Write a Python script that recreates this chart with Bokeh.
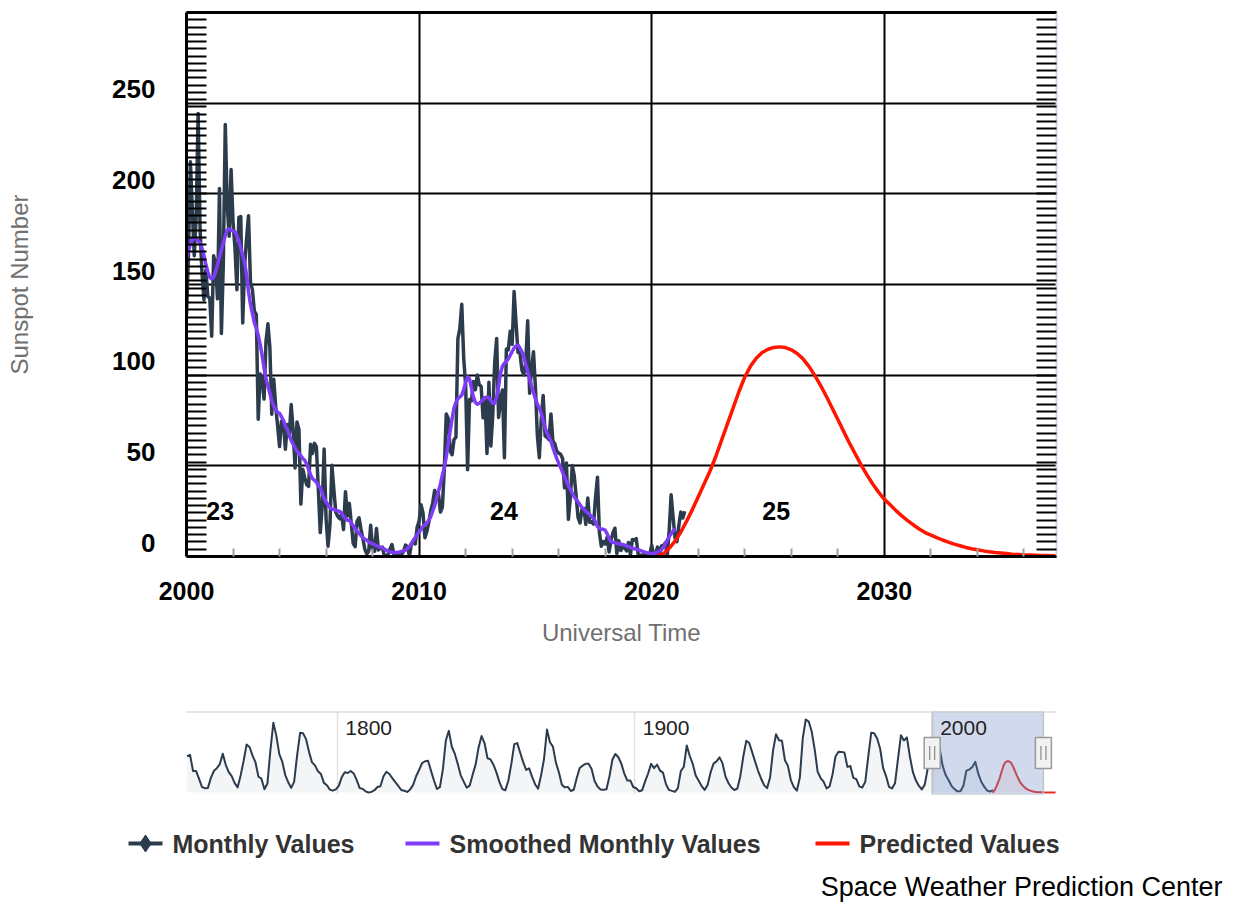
from bokeh.plotting import figure
from bokeh.layouts import column
from bokeh.models import Range1d, LinearAxis, FixedTicker, Grid
from bokeh.core.properties import value
from bokeh.embed import file_html
from bokeh.resources import INLINE

FONT = "Liberation Sans"

# ---------------------------------------------------------------------------
# Data
# ---------------------------------------------------------------------------
# Monthly mean sunspot number, one value per month starting January 2000
monthly_start = 2000
monthly_values = [
    133.1, 165.7, 217.7, 191.5, 165.9, 188.0, 244.3, 180.5, 156.0, 141.6, 158.1, 143.3,  # 2000
    142.6, 121.5, 165.8, 161.7, 142.1, 202.9, 123.0, 161.5, 238.2, 194.1, 176.6, 213.4,  # 2001
    184.6, 170.2, 147.1, 186.9, 187.5, 128.8, 161.0, 175.6, 187.9, 151.2, 147.2, 135.3,  # 2002
    133.5, 75.7, 100.7, 97.9, 86.8, 118.7, 128.3, 115.4, 78.5, 97.8, 82.9, 72.2,  # 2003
    60.6, 74.6, 74.8, 59.2, 72.8, 66.5, 83.8, 69.7, 48.8, 74.2, 70.1, 28.9,  # 2004
    48.1, 43.5, 39.6, 38.7, 61.9, 56.8, 62.4, 60.5, 37.2, 13.2, 27.5, 59.3,  # 2005
    20.9, 5.7, 17.3, 50.3, 37.2, 24.5, 22.2, 20.8, 23.7, 14.9, 35.7, 22.3,  # 2006
    29.3, 18.4, 7.2, 5.4, 19.5, 21.3, 15.1, 9.8, 4.0, 1.5, 2.8, 17.3,  # 2007
    4.1, 2.9, 15.5, 3.6, 4.6, 5.2, 0.6, 0.3, 1.2, 4.2, 6.6, 1.0,  # 2008
    1.3, 1.2, 0.6, 1.2, 2.9, 6.3, 5.5, 0.0, 7.1, 7.7, 6.9, 16.3,  # 2009
    19.5, 28.5, 24.0, 10.4, 13.9, 18.8, 25.2, 29.6, 36.4, 33.6, 34.4, 24.5,  # 2010
    27.3, 48.3, 78.6, 76.1, 58.2, 56.1, 64.5, 65.8, 120.1, 125.7, 139.1, 109.3,  # 2011
    94.4, 47.8, 86.6, 85.9, 96.5, 92.0, 100.1, 94.8, 93.7, 76.5, 87.6, 56.8,  # 2012
    96.1, 60.9, 78.3, 107.3, 120.2, 76.7, 86.2, 91.8, 54.5, 114.4, 113.9, 124.2,  # 2013
    117.0, 146.1, 128.7, 112.5, 112.5, 102.9, 100.2, 106.9, 130.0, 90.0, 103.6, 112.9,  # 2014
    93.0, 66.7, 54.5, 75.3, 88.8, 66.5, 65.8, 64.4, 78.6, 63.6, 62.2, 58.0,  # 2015
    57.0, 56.4, 54.1, 37.9, 51.5, 20.5, 32.4, 50.2, 44.6, 33.4, 21.4, 18.5,  # 2016
    26.1, 26.4, 17.7, 32.3, 18.9, 19.2, 17.8, 32.6, 43.7, 13.2, 5.7, 8.2,  # 2017
    6.8, 10.7, 2.5, 8.9, 13.1, 15.6, 1.6, 8.7, 3.3, 4.9, 4.9, 3.1,  # 2018
    7.7, 0.8, 9.4, 9.1, 9.9, 1.2, 0.9, 0.5, 1.1, 0.4, 0.5, 1.5,  # 2019
    6.2, 0.2, 1.5, 5.2, 0.2, 5.8, 6.1, 7.5, 0.6, 14.4, 34.0, 21.8,  # 2020
    10.4, 8.2, 17.2, 24.5, 21.2, 25.0,  # 2021
]

# 13-month smoothed sunspot number, one value per month starting January 2000
smoothed_values = [
    165, 169, 172, 175, 175.5, 175, 174, 173, 170, 166, 161, 157,  # 2000
    154, 153, 154, 157, 161, 165, 169, 173, 177, 180, 180.5, 180,  # 2001
    179.5, 179, 177, 174, 170, 166, 162, 155, 146, 139, 134, 129,  # 2002
    126, 122, 117, 111, 104, 98, 94, 90, 86, 83, 81, 79.5,  # 2003
    79, 77, 75, 72, 70, 67, 64, 62, 60, 58, 57, 55.5,  # 2004
    54, 53, 51, 48, 45, 43, 42, 41, 39, 38, 35, 32,  # 2005
    30, 28.5, 27, 26, 26, 25.5, 25, 25, 24, 22, 21, 20,  # 2006
    20, 18.5, 17, 15.5, 14, 13, 11.5, 10.5, 9.5, 9, 8, 7.5,  # 2007
    7, 6.5, 6, 5.5, 5, 4.7, 4.2, 3.5, 3, 2.6, 2.3, 2.2,  # 2008
    2.2, 2.3, 2.5, 2.8, 3.1, 3.6, 4.5, 5.5, 7, 9, 10.5, 12,  # 2009
    13.5, 15, 16.5, 17.5, 18.5, 20, 22, 25, 28, 32, 36, 40,  # 2010
    45, 49, 55, 62, 69, 76, 82, 85, 87, 88, 89, 92,  # 2011
    96, 99, 98, 93, 88, 85, 84, 84.5, 85.5, 86.5, 87.5, 88,  # 2012
    87.5, 86, 84.5, 84.5, 88, 94, 101, 105, 106.5, 107.5, 109, 111,  # 2013
    113, 115, 116.2, 116.6, 115, 113, 110, 106, 102, 98, 94, 90.5,  # 2014
    87, 84, 82, 79, 75, 71, 68, 66, 63.5, 60, 57, 54,  # 2015
    51.5, 49, 46.5, 44, 41.5, 39, 37, 35, 33, 31.5, 30, 28.5,  # 2016
    27, 26, 25, 24, 23, 22, 21, 19, 16.5, 15.5, 15.2, 15,  # 2017
    14.5, 12.5, 10, 8.2, 7.8, 7.5, 7.3, 7, 6.8, 6.6, 6.3, 5.9,  # 2018
    5.5, 5, 4.6, 4.3, 4, 3.7, 3.4, 3, 2.6, 2.2, 1.9, 1.8,  # 2019
    1.6, 1.7, 2, 2.5, 3, 3.8, 5, 7, 9, 11, 12.5, 14,  # 2020
    15.5,  # 2021
]

# Predicted smoothed sunspot number for cycle 25, quarterly from 2020.25
predicted_start = 2020.25
predicted_step = 0.25
predicted_values = [
    0.3, 1.5, 4.5, 8.5, 13.5, 19.5, 26, 33, 40, 47, 55, 64,
    73, 82, 91, 99, 105, 109.5, 112.5, 114.3, 115.3, 115.6, 115.2, 114,
    112, 109, 105, 100, 94.5, 88.5, 82, 75.5, 69, 62.5, 56.5, 50.5,
    45, 40, 35.5, 31.5, 28.5, 25.3, 22.4, 19.8, 17.4, 15.2, 13.2, 11.8,
    10.4, 9.1, 7.9, 6.8, 5.9, 5.0, 4.3, 3.7, 3.1, 2.6, 2.2, 1.9,
    1.6, 1.3, 1.1, 0.9, 0.8, 0.7, 0.6, 0.5, 0.45, 0.4, 0.35, 0.3,
    0.3, 0.28, 0.26, 0.24, 0.22, 0.2, 0.2, 0.18, 0.17, 0.16, 0.15, 0.15,
    0.14, 0.13,
]

# Yearly mean sunspot number 1749-2020 (navigator overview)
nav_first_year = 1749
nav_values = [
    134.0,
    139.0, 79.5, 79.7, 51.2, 20.3, 16.0, 17.0, 54.0, 79.3, 90.0,
    104.8, 143.2, 102.0, 75.2, 60.7, 34.8, 19.0, 63.0, 116.3, 176.8,
    168.0, 136.0, 110.8, 58.0, 51.0, 11.7, 33.0, 154.2, 257.3, 209.8,
    141.3, 113.5, 64.2, 38.0, 17.0, 40.2, 138.2, 220.0, 218.2, 196.8,
    149.8, 111.0, 100.0, 78.2, 68.3, 35.5, 26.7, 10.7, 6.8, 11.3,
    24.2, 56.7, 75.0, 71.8, 79.2, 70.3, 46.8, 16.8, 13.5, 4.2,
    0.0, 2.3, 8.3, 20.3, 23.2, 59.0, 76.3, 68.3, 52.9, 38.5,
    24.2, 9.2, 6.3, 2.2, 11.4, 28.2, 59.9, 83.0, 108.5, 115.2,
    117.4, 80.8, 44.3, 13.4, 19.5, 85.8, 192.7, 227.3, 168.7, 143.0,
    105.5, 63.3, 40.3, 18.1, 25.1, 65.8, 102.7, 166.3, 208.3, 182.5,
    126.3, 122.0, 102.7, 74.1, 39.0, 12.7, 8.2, 43.4, 104.4, 178.3,
    182.2, 146.6, 112.1, 83.5, 89.2, 57.8, 30.7, 13.9, 62.8, 123.6,
    232.0, 185.3, 169.2, 110.1, 74.5, 28.3, 18.9, 20.7, 5.7, 10.0,
    53.7, 90.5, 99.0, 106.1, 105.8, 86.3, 42.4, 21.8, 11.2, 10.4,
    11.8, 59.5, 121.7, 142.0, 130.0, 106.6, 69.4, 43.8, 44.4, 20.2,
    15.7, 4.6, 8.5, 40.8, 70.1, 105.5, 90.1, 102.8, 80.9, 73.2,
    30.9, 9.5, 6.0, 2.4, 16.1, 79.0, 95.0, 173.6, 134.6, 105.7,
    62.7, 43.5, 23.7, 9.7, 27.9, 74.0, 106.5, 114.7, 129.7, 108.2,
    59.4, 35.1, 18.6, 9.2, 14.6, 60.2, 132.8, 190.6, 182.6, 148.0,
    113.0, 79.2, 50.8, 27.1, 16.1, 55.3, 154.3, 214.7, 193.0, 190.7,
    118.9, 98.3, 45.0, 20.1, 6.6, 54.2, 200.7, 269.3, 261.7, 225.1,
    159.0, 76.4, 53.4, 39.9, 15.0, 22.0, 66.8, 132.9, 150.2, 149.4,
    148.0, 94.4, 97.6, 54.1, 49.2, 22.5, 18.4, 39.3, 131.0, 220.1,
    218.9, 198.9, 162.4, 91.0, 60.5, 20.6, 14.8, 33.9, 123.0, 211.1,
    191.8, 203.3, 133.0, 76.1, 44.9, 25.1, 11.6, 28.9, 88.3, 136.3,
    173.9, 170.4, 163.6, 99.3, 65.3, 45.8, 24.7, 12.6, 4.2, 4.8,
    24.9, 80.8, 84.5, 94.0, 113.3, 69.8, 39.8, 21.7, 7.0, 3.6, 8.8,
]

# Solar cycle numbers and where they are written
cycle_labels = ["23", "24", "25"]
cycle_label_x = [2001.45, 2013.65, 2025.35]
cycle_label_y = [25, 25, 25]

x_ticks = [2000, 2010, 2020, 2030]
y_ticks = [0, 50, 100, 150, 200, 250]
nav_ticks = [1800, 1900, 2000]

legend_labels = ["Monthly Values", "Smoothed Monthly Values", "Predicted Values"]
credit_text = "Space Weather Prediction Center"

# ---------------------------------------------------------------------------
# Styles
# ---------------------------------------------------------------------------
C_MONTHLY = "#2c3c4d"
C_SMOOTH = "#7e3cf8"
C_PRED = "#ff1500"

X_START, X_END = 2000.0, 2037.4
Y_START, Y_END = 0.0, 300.0
LABEL_SHIFT = 7.72  # value labels sit a little above their grid lines

monthly_x = [monthly_start + i / 12 for i in range(len(monthly_values))]
smoothed_x = [monthly_start + i / 12 for i in range(len(smoothed_values))]
predicted_x = [predicted_start + i * predicted_step for i in range(len(predicted_values))]
nav_x = [nav_first_year + i + 0.5 for i in range(len(nav_values))]

# ---------------------------------------------------------------------------
# Main chart
# ---------------------------------------------------------------------------
p = figure(width=1235, height=680,
           x_range=Range1d(X_START, X_END), y_range=Range1d(Y_START, Y_END),
           x_axis_type=None, y_axis_type=None,
           min_border_left=186, min_border_right=179,
           min_border_top=12, min_border_bottom=124,
           output_backend="svg", toolbar_location=None)
p.outline_line_color = None
p.background_fill_color = "white"
p.border_fill_color = "white"
p.extra_y_ranges = {"lab": Range1d(Y_START - LABEL_SHIFT, Y_END - LABEL_SHIFT)}

p.add_layout(Grid(dimension=0, ticker=FixedTicker(ticks=[t for t in x_ticks if t > X_START]),
                  grid_line_color="black", grid_line_width=2))
p.add_layout(Grid(dimension=1, ticker=FixedTicker(ticks=[t for t in y_ticks if t > Y_START]),
                  grid_line_color="black", grid_line_width=2))

minor_y = list(range(0, 301, 4))

xaxis = LinearAxis(ticker=FixedTicker(ticks=x_ticks,
                                      minor_ticks=[y for y in range(2002, 2037, 2) if y % 10]))
xaxis.axis_line_color = "black"
xaxis.axis_line_width = 3
xaxis.major_tick_line_color = None
xaxis.major_tick_in = 0
xaxis.major_tick_out = 0
xaxis.minor_tick_line_color = "#a0a0a0"
xaxis.minor_tick_line_width = 2
xaxis.minor_tick_in = 8
xaxis.minor_tick_out = 0
xaxis.major_label_text_font = FONT
xaxis.major_label_text_font_size = "25px"
xaxis.major_label_text_font_style = "bold"
xaxis.major_label_text_color = "black"
xaxis.major_label_standoff = 25
xaxis.axis_label = "Universal Time"
xaxis.axis_label_text_font = FONT
xaxis.axis_label_text_font_size = "24px"
xaxis.axis_label_text_font_style = "normal"
xaxis.axis_label_text_color = "#707070"
xaxis.axis_label_standoff = 16
p.add_layout(xaxis, "below")

yaxis = LinearAxis(y_range_name="lab",
                   ticker=FixedTicker(ticks=y_ticks,
                                      minor_ticks=[v - LABEL_SHIFT for v in minor_y]))
yaxis.axis_line_color = "black"
yaxis.axis_line_width = 3
yaxis.major_tick_line_color = None
yaxis.major_tick_in = 0
yaxis.major_tick_out = 0
yaxis.minor_tick_line_color = "black"
yaxis.minor_tick_line_width = 2
yaxis.minor_tick_in = 20
yaxis.minor_tick_out = 0
yaxis.major_label_text_font = FONT
yaxis.major_label_text_font_size = "26px"
yaxis.major_label_text_font_style = "bold"
yaxis.major_label_text_color = "black"
yaxis.major_label_standoff = 31
yaxis.axis_label = "Sunspot Number"
yaxis.axis_label_text_font = FONT
yaxis.axis_label_text_font_size = "24px"
yaxis.axis_label_text_font_style = "normal"
yaxis.axis_label_text_color = "#707070"
yaxis.axis_label_standoff = 76
p.add_layout(yaxis, "left")

raxis = LinearAxis(ticker=FixedTicker(ticks=[], minor_ticks=minor_y))
raxis.axis_line_color = "#ccd6eb"
raxis.axis_line_width = 2
raxis.major_tick_line_color = None
raxis.minor_tick_line_color = "black"
raxis.minor_tick_line_width = 2
raxis.minor_tick_in = 20
raxis.minor_tick_out = 0
raxis.major_label_text_font_size = "0px"
p.add_layout(raxis, "right")

taxis = LinearAxis(ticker=FixedTicker(ticks=[], minor_ticks=[]))
taxis.axis_line_color = "black"
taxis.axis_line_width = 3
taxis.major_tick_line_color = None
taxis.minor_tick_line_color = None
taxis.major_label_text_font_size = "0px"
p.add_layout(taxis, "above")

p.line(monthly_x, monthly_values, line_color=C_MONTHLY, line_width=3.5, line_join="round")
p.line(smoothed_x, smoothed_values, line_color=C_SMOOTH, line_width=3.5, line_join="round")
p.line(predicted_x, predicted_values, line_color=C_PRED, line_width=3.5, line_join="round")

p.text(x=cycle_label_x, y=cycle_label_y, text=cycle_labels,
       text_font=value(FONT), text_font_size=value("25px"), text_font_style="bold",
       text_color="black", text_align="center", text_baseline="middle")

# ---------------------------------------------------------------------------
# Navigator overview
# ---------------------------------------------------------------------------
NAV_X0, NAV_X1 = 1749.3, 2041.8
NAV_Y0, NAV_Y1 = -7.4, 298.8
NAV_TOP, NAV_H = 31, 83

nav = figure(width=1235, height=125,
             x_range=Range1d(NAV_X0, NAV_X1), y_range=Range1d(NAV_Y0, NAV_Y1),
             x_axis_type=None, y_axis_type=None,
             min_border_left=186, min_border_right=179,
             min_border_top=NAV_TOP, min_border_bottom=125 - NAV_TOP - NAV_H,
             output_backend="svg", toolbar_location=None)
nav.outline_line_color = None
nav.add_layout(Grid(dimension=0, ticker=FixedTicker(ticks=nav_ticks),
                    grid_line_color="#e2e2e2", grid_line_width=1.5))

nav.varea(x=nav_x, y1=[0] * len(nav_x), y2=nav_values, fill_color=C_MONTHLY, fill_alpha=0.05)
nav.line(nav_x, nav_values, line_color=C_MONTHLY, line_width=2, line_join="round")
nav.varea(x=predicted_x, y1=[0] * len(predicted_x), y2=predicted_values,
          fill_color=C_PRED, fill_alpha=0.06)
nav.line(predicted_x, predicted_values, line_color="#e8302a", line_width=2, line_join="round")

# selected window
nav.quad(left=[X_START], right=[X_END], bottom=[NAV_Y0], top=[NAV_Y1],
         fill_color="#6685c2", fill_alpha=0.3, line_color="#c4c4c4", line_width=1.5)
nav.line([NAV_X0, NAV_X1], [NAV_Y1, NAV_Y1], line_color="#cccccc", line_width=2)

px_per_year = 870 / (NAV_X1 - NAV_X0)
mid_y = (NAV_Y0 + NAV_Y1) / 2
handles = [X_START, X_END]
nav.rect(x=handles, y=[mid_y] * 2, width=16, height=31, width_units="screen",
         height_units="screen", fill_color="#f2f2f2", line_color="#999999", line_width=1.5)
grip_dx = 2.5 / px_per_year
nav.rect(x=[h - grip_dx for h in handles] + [h + grip_dx for h in handles], y=[mid_y] * 4,
         width=1.2, height=14, width_units="screen", height_units="screen",
         fill_color="#888888", line_color=None)

label_y = NAV_Y1 - (727 - 711) / NAV_H * (NAV_Y1 - NAV_Y0)
nav.text(x=nav_ticks, y=[label_y] * len(nav_ticks), text=[str(t) for t in nav_ticks],
         x_offset=8, text_font=value(FONT), text_font_size=value("21px"),
         text_color="#222222", text_align="left", text_baseline="middle")

# ---------------------------------------------------------------------------
# Legend and credits (pixel coordinates across the full page width)
# ---------------------------------------------------------------------------
leg = figure(width=1235, height=98, x_range=Range1d(0, 1235), y_range=Range1d(98, 0),
             x_axis_type=None, y_axis_type=None, min_border=0,
             output_backend="svg", toolbar_location=None)
leg.frame_align = False
leg.outline_line_color = None

sym_left = [128, 405, 815]
sym_colors = [C_MONTHLY, C_SMOOTH, C_PRED]
row_y = 38
for left, col in zip(sym_left, sym_colors):
    leg.line([left, left + 34], [row_y, row_y], line_color=col, line_width=4)
leg.scatter([sym_left[0] + 17], [row_y], marker="diamond", size=17,
            fill_color=C_MONTHLY, line_color=C_MONTHLY)
leg.text(x=[l + 44 for l in sym_left], y=[row_y] * 3, text=legend_labels,
         text_font=value(FONT), text_font_size=value("25px"), text_font_style="bold",
         text_color="#333333", text_align="left", text_baseline="middle")
leg.text(x=[1222], y=[81], text=[credit_text],
         text_font=value(FONT), text_font_size=value("27px"),
         text_color="black", text_align="right", text_baseline="middle")

layout = column(p, nav, leg, spacing=0)
open("out.html", "w").write(file_html(layout, INLINE))
